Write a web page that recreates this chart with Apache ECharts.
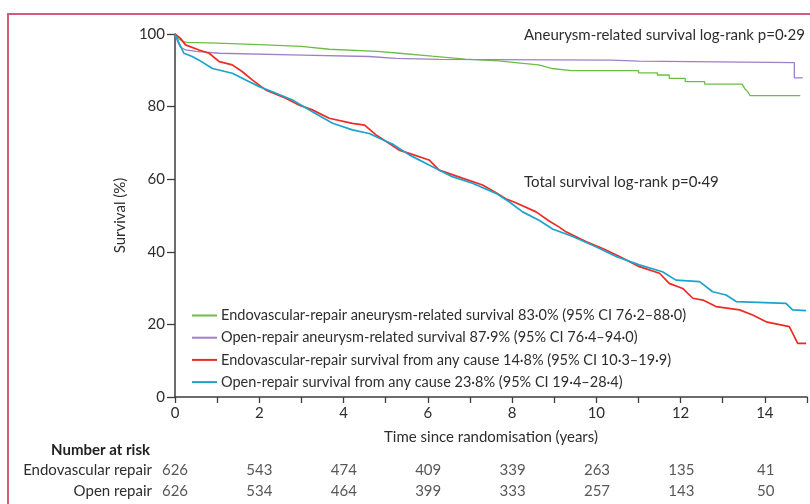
<!DOCTYPE html>
<html><head><meta charset="utf-8">
<script src="https://cdn.jsdelivr.net/npm/echarts@6/dist/echarts.min.js"></script>
<style>html,body{margin:0;padding:0;background:#fff}#c{width:810px;height:504px}</style>
</head><body><div id="c"></div>
<script>
// ---- data ----
const seriesNames = [
  'Endovascular-repair aneurysm-related survival 83·0% (95% CI 76·2–88·0)',
  'Open-repair aneurysm-related survival 87·9% (95% CI 76·4–94·0)',
  'Endovascular-repair survival from any cause 14·8% (95% CI 10·3–19·9)',
  'Open-repair survival from any cause 23·8% (95% CI 19·4–28·4)'
];
const seriesColors = ['#6cbd45', '#9f7fc6', '#ee2a24', '#1ca3cc'];

const endoAneurysmT = [0, 0.1, 0.2, 0.29, 1.0, 2.0, 3.0, 3.66, 4.8, 5.32, 6.1, 6.89, 7.68, 8.2, 8.63, 8.94, 9.41, 11.0, 11.0, 11.45, 11.45, 11.73, 11.73, 12.11, 12.11, 12.57, 12.57, 13.46, 13.52, 13.6, 13.65, 14.84];
const endoAneurysmS = [100, 98.6, 97.9, 97.7, 97.5, 97.1, 96.6, 95.8, 95.2, 94.7, 93.9, 93.1, 92.6, 92.0, 91.5, 90.5, 89.9, 89.9, 89.3, 89.3, 88.7, 88.7, 87.8, 87.8, 86.9, 86.9, 86.2, 86.2, 85.0, 84.0, 83.0, 83.0];

const openAneurysmT = [0, 0.05, 0.12, 0.25, 0.5, 1.05, 3.03, 4.6, 5.25, 6.27, 10.35, 10.35, 11.02, 11.02, 14.7, 14.7, 14.9];
const openAneurysmS = [100, 98.3, 96.5, 95.6, 95.2, 94.7, 94.2, 93.8, 93.3, 93.0, 92.8, 92.5, 92.5, 92.1, 92.1, 87.9, 87.9];

const endoAnyT = [0, 0.13, 0.25, 0.57, 0.81, 1.05, 1.36, 1.6, 1.84, 2.15, 2.63, 2.95, 3.26, 3.66, 4.21, 4.5, 4.77, 5.08, 5.32, 5.56, 6.03, 6.27, 6.82, 7.3, 7.62, 7.85, 8.09, 8.57, 8.88, 9.12, 9.28, 9.75, 10.15, 10.55, 11.02, 11.5, 11.73, 12.05, 12.29, 12.53, 12.84, 13.4, 13.71, 14.03, 14.58, 14.7, 14.78, 14.98];
const endoAnyS = [100, 98.8, 97.0, 95.6, 94.7, 92.4, 91.5, 89.6, 87.3, 84.6, 82.3, 80.4, 79.1, 76.8, 75.4, 74.9, 72.2, 69.9, 68.0, 67.1, 65.3, 62.5, 60.3, 58.4, 56.3, 54.6, 53.5, 51.0, 48.5, 46.8, 45.5, 42.8, 40.9, 38.7, 35.9, 34.1, 31.3, 29.9, 27.2, 26.7, 24.9, 24.0, 22.6, 20.7, 19.4, 16.6, 14.8, 14.8];

const openAnyT = [0, 0.1, 0.21, 0.41, 0.57, 0.89, 1.36, 1.68, 2.0, 2.31, 2.79, 3.26, 3.74, 4.21, 4.61, 4.85, 5.16, 5.56, 6.03, 6.58, 7.06, 7.62, 7.93, 8.25, 8.65, 8.96, 9.44, 9.99, 10.47, 11.02, 11.57, 11.89, 12.45, 12.76, 13.08, 13.32, 14.5, 14.66, 14.98];
const openAnyS = [100, 97.4, 94.7, 93.8, 92.8, 90.5, 89.2, 87.3, 85.5, 84.1, 81.8, 78.6, 75.4, 73.6, 72.6, 71.3, 69.7, 66.7, 63.9, 60.7, 58.9, 56.1, 53.8, 51.0, 48.6, 46.3, 44.2, 41.4, 38.7, 36.4, 34.5, 32.2, 31.8, 29.0, 28.1, 26.3, 25.8, 24.0, 23.8];

const riskRows = ['Endovascular repair', 'Open repair'];
const riskYears = [0, 2, 4, 6, 8, 10, 12, 14];
const riskEndo = [626, 543, 474, 409, 339, 263, 135, 41];
const riskOpen = [626, 534, 464, 399, 333, 257, 143, 50];

const yTicks = [0, 20, 40, 60, 80, 100];
const annotAneurysm = 'Aneurysm-related survival log-rank p=0·29';
const annotTotal = 'Total survival log-rank p=0·49';

// ---- chart ----
const zip = (t, s) => t.map((v, i) => [v, s[i]]);
const curves = [
  zip(endoAneurysmT, endoAneurysmS),
  zip(openAneurysmT, openAneurysmS),
  zip(endoAnyT, endoAnyS),
  zip(openAnyT, openAnyS)
];
const FONT = 'Lato, "Open Sans", sans-serif';
const TXT = '#2e2e2e';
const AX = '#3c3c3c';

const lineSeries = curves.map((d, i) => ({
  type: 'line', name: seriesNames[i], data: d, xAxisIndex: 0, yAxisIndex: 0,
  showSymbol: false, symbol: 'none', silent: true,
  lineStyle: { color: seriesColors[i], width: i < 2 ? 1.3 : 1.7 },
  itemStyle: { color: seriesColors[i] },
  z: 2 + i
}));

const riskData = [];
riskYears.forEach((y, i) => {
  riskData.push([y, 0, riskEndo[i]]);
  riskData.push([y, 1, riskOpen[i]]);
});

const chart = echarts.init(document.getElementById('c'), null, { renderer: 'canvas' });
chart.setOption({
  animation: false,
  backgroundColor: '#fff',
  textStyle: { fontFamily: FONT },
  grid: [
    { left: 175, right: 2, top: 34, bottom: 107 },
    { left: 175, right: 2, top: 460, height: 42 }
  ],
  xAxis: [
    {
      type: 'value', gridIndex: 0, min: 0, max: 15, interval: 1,
      axisLine: { lineStyle: { color: AX, width: 1.5 } },
      axisTick: { length: 6, lineStyle: { color: AX, width: 1.3 } },
      axisLabel: { fontSize: 15, color: TXT, margin: 9, fontFamily: FONT,
        formatter: v => (v % 2 === 0 ? String(v) : '') },
      splitLine: { show: false },
      name: 'Time since randomisation (years)', nameLocation: 'middle', nameGap: 33,
      nameTextStyle: { fontSize: 15, color: TXT, fontFamily: FONT }
    },
    { type: 'value', gridIndex: 1, min: 0, max: 15, show: false }
  ],
  yAxis: [
    {
      type: 'value', gridIndex: 0, min: 0, max: 100, interval: 20,
      axisLine: { show: true, lineStyle: { color: AX, width: 1.5 } },
      axisTick: { show: true, length: 8, lineStyle: { color: AX, width: 1.3 } },
      axisLabel: { fontSize: 15, color: TXT, margin: 10, fontFamily: FONT,
        formatter: v => (yTicks.includes(v) ? String(v) : '') },
      splitLine: { show: false },
      name: 'Survival (%)', nameLocation: 'middle', nameGap: 44,
      nameTextStyle: { fontSize: 15, color: TXT, fontFamily: FONT }
    },
    {
      type: 'category', gridIndex: 1, data: riskRows, inverse: true,
      axisLine: { show: false }, axisTick: { show: false }, splitLine: { show: false },
      axisLabel: { fontSize: 15, color: TXT, margin: 23, fontFamily: FONT }
    }
  ],
  legend: {
    data: seriesNames, orient: 'vertical', left: 187, top: 303,
    itemWidth: 25, itemHeight: 2, itemGap: 7.2, icon: 'rect',
    textStyle: { fontSize: 14.5, color: TXT, fontFamily: FONT, padding: [0, 0, 0, -1] },
    selectedMode: false
  },
  series: lineSeries.concat([{
    type: 'scatter', xAxisIndex: 1, yAxisIndex: 1, data: riskData, silent: true,
    symbolSize: 1, itemStyle: { color: 'rgba(0,0,0,0)' },
    label: { show: true, position: 'inside', formatter: p => String(p.value[2]),
      fontSize: 15, color: TXT, fontFamily: FONT }
  }]),
  graphic: [
    { type: 'polyline', silent: true, shape: { points: [[8, 504], [8, 14], [810, 14]] },
      style: { stroke: '#d65a7e', lineWidth: 2, fill: null } },
    { type: 'text', x: 524, y: 35, silent: true,
      style: { text: annotAneurysm, font: '15px ' + FONT, fill: TXT, align: 'left', verticalAlign: 'middle' } },
    { type: 'text', x: 524, y: 182, silent: true,
      style: { text: annotTotal, font: '15px ' + FONT, fill: TXT, align: 'left', verticalAlign: 'middle' } },
    { type: 'text', x: 150, y: 450, silent: true,
      style: { text: 'Number at risk', font: 'bold 15px ' + FONT, fill: '#222', align: 'right', verticalAlign: 'middle' } }
  ]
});
</script></body></html>
